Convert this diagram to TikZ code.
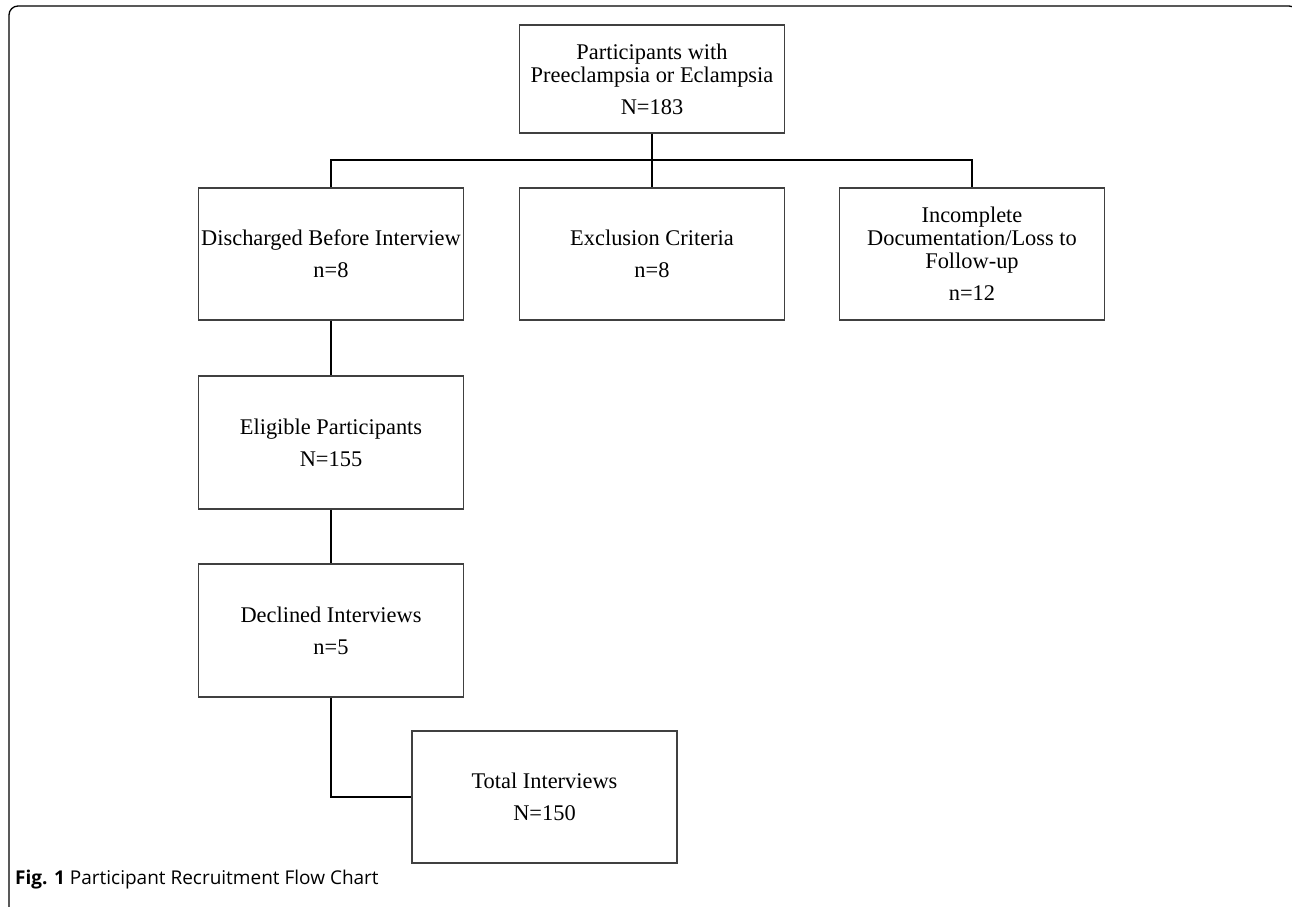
\documentclass[tikz,border=0pt]{standalone}
\usepackage{fontspec}
\setmainfont{Liberation Serif}
\newfontfamily\capfont{Open Sans}

\begin{document}
\begin{tikzpicture}[x=1pt, y=-1pt,
  flowbox/.style={draw=black!75, line width=1.1pt, align=center, inner sep=0pt,
    font=\fontsize{22.4}{23}\selectfont, minimum width=265pt},
  link/.style={line width=1.2pt}]
  \clip (0,0) rectangle (1292,906);
  \draw[line width=1.3pt, rounded corners=9pt] (9,910) -- (9,6) -- (1298,6) -- (1298,910);
  \node[flowbox, minimum height=108pt] (top) at (652,79)
    {Participants with\\Preeclampsia or Eclampsia\\[9pt]N=183};
  \node[flowbox, minimum height=132pt] (dis) at (331,254) {Discharged Before Interview\\[9pt]n=8};
  \node[flowbox, minimum height=132pt] (exc) at (652,254) {Exclusion Criteria\\[9pt]n=8};
  \node[flowbox, minimum height=132pt] (inc) at (972,254)
    {Incomplete\\Documentation/Loss to\\Follow-up\\[9pt]n=12};
  \node[flowbox, minimum height=133pt] (eli) at (331,442.5) {Eligible Participants\\[9pt]N=155};
  \node[flowbox, minimum height=133pt] (dec) at (331,630.5) {Declined Interviews\\[9pt]n=5};
  \node[flowbox, minimum height=132pt] (tot) at (544.5,797) {Total Interviews\\[9pt]N=150};
  \coordinate (bar) at (652,160);
  \draw[link] (top.south) -- (bar);
  \draw[link] (dis.north) |- (bar) -| (inc.north);
  \draw[link] (bar) -- (exc.north);
  \draw[link] (dis) -- (eli);
  \draw[link] (eli) -- (dec);
  \draw[link] (dec.south) |- (tot.west);
  \node[anchor=base west, inner sep=0pt, font=\capfont\fontsize{19}{21}\selectfont] (cap) at (15,884)
    {\textbf{Fig. 1} Participant Recruitment Flow Chart};
\end{tikzpicture}
\end{document}
